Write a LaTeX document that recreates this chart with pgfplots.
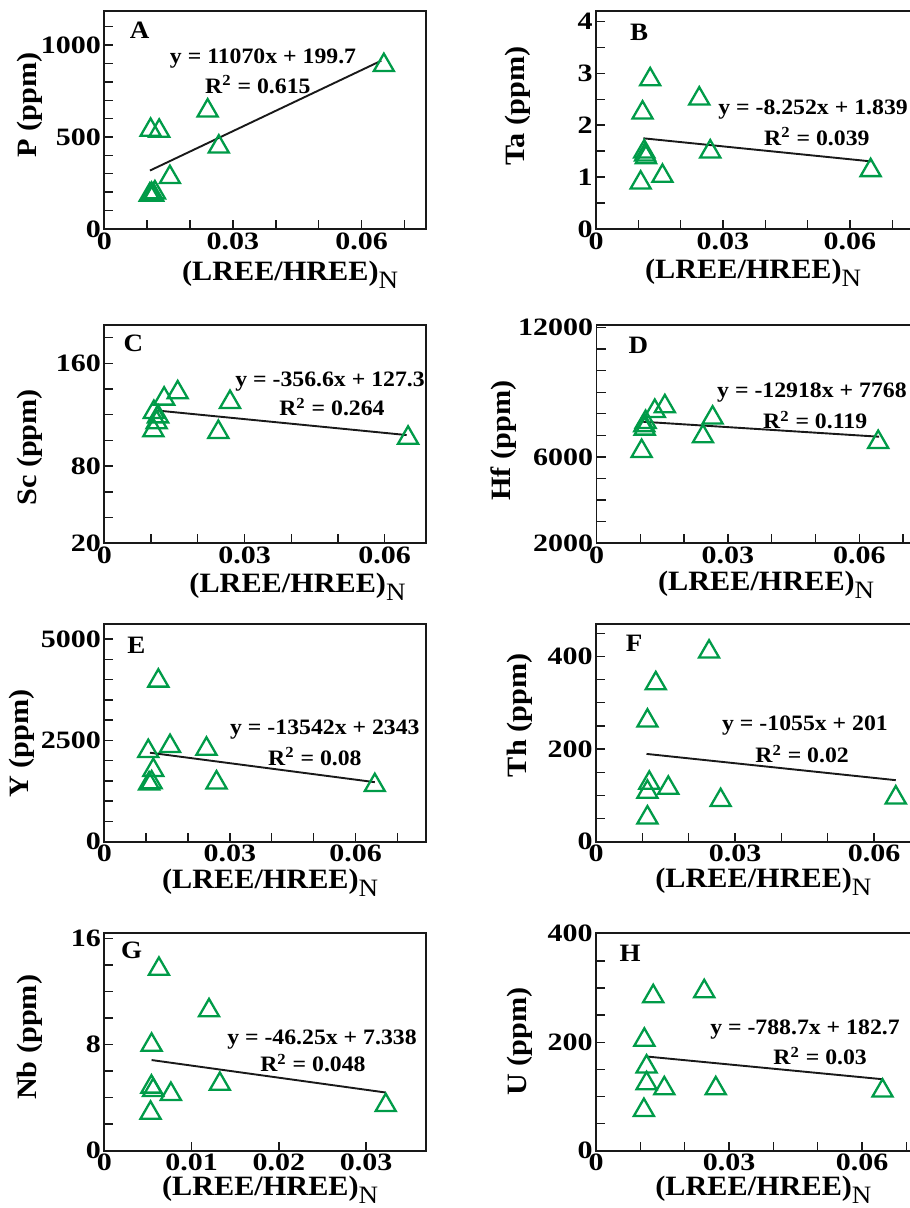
\documentclass[border=0pt]{standalone}
\usepackage{fontspec}
\setmainfont{Liberation Serif}[FakeStretch=1.08]
\newfontfamily\tickfont{Liberation Serif}[FakeStretch=1.2]
\usepackage{pgfplots}
\pgfplotsset{compat=1.18}
\definecolor{tri}{RGB}{0,155,72}
\newcommand{\xlab}{\textbf{(LREE/HREE)}\raisebox{-0.6ex}{\fontsize{12.5}{14}\selectfont\mdseries N}}
\newcommand{\eqf}{\fontsize{11}{13}\selectfont\bfseries}
\newcommand{\letf}{\fontsize{12.5}{14}\selectfont\bfseries}
\pgfplotsset{
  panel/.style={
    scale only axis, width=161pt, height=109pt,
    scaled ticks=false,
    axis line style={line width=0.9pt, black!90},
    every tick/.style={line width=0.7pt, black!90},
    major tick length=4.5pt, minor tick length=4.5pt,
    tick align=inside, tick pos=left,
    ticklabel style={font=\fontsize{12.5}{14}\selectfont\tickfont\bfseries, inner sep=1.5pt},
    label style={font=\fontsize{14}{16}\selectfont\bfseries},
    xlabel=\xlab,
    clip=false, anchor=south west,
  },
  xl/.style 2 args={xlabel style={at={(axis description cs:#1,#2)}, anchor=center}},
  yl/.style 2 args={ylabel style={at={(axis description cs:#1,#2)}, anchor=center}},
  x06/.style={xmin=0, xmax=#1, xtick={0,0.03,0.06}, xticklabels={0,0.03,0.06},
    minor xtick={0.01,0.02,0.04,0.05,0.07}},
  tri/.style={only marks, mark=triangle, mark size=5.8pt,
    mark options={draw=tri, line width=1.15pt, fill=none}},
  fit/.style={no marks, black!90, line width=0.95pt},
}
\begin{document}
\begin{tikzpicture}
\useasboundingbox (0,0) rectangle (454.5pt,604pt);

% A
\begin{axis}[panel, at={(52.15pt,489.5pt)}, x06=0.0751,
  ymin=0, ymax=1185, ytick={0,500,1000}, yticklabels={0,500,1000},
  minor ytick={100,200,...,1100},
  ylabel={P (ppm)}, xl={0.577}{-0.211}, yl={-0.231}{0.57}]
\addplot[tri] coordinates {(0.0106,185) (0.0110,190) (0.0114,185) (0.0118,198)
  (0.0108,538) (0.0128,533) (0.0153,281) (0.0241,643) (0.0267,447) (0.0652,890)};
\addplot[fit] coordinates {(0.01065,317.6) (0.0646,914.8)};
\node[font=\letf] at (rel axis cs:0.11,0.913) {A};
\node[font=\eqf] at (rel axis cs:0.493,0.784) {y = 11070x + 199.7};
\node[font=\eqf] at (rel axis cs:0.477,0.661) {R\textsuperscript{2} = 0.615};
\end{axis}

% B
\begin{axis}[panel, at={(298pt,489.5pt)}, x06=0.0761,
  ymin=0, ymax=4.2, ytick={0,1,2,3,4}, yticklabels={0,1,2,3,4},
  minor ytick={0.5,1.5,2.5,3.5},
  ylabel={Ta (ppm)}, xl={0.488}{-0.20}, yl={-0.242}{0.564}]
\addplot[tri] coordinates {(0.0128,2.88) (0.0110,2.24) (0.0244,2.51) (0.0114,1.49)
  (0.0116,1.43) (0.0118,1.38) (0.01055,0.89) (0.0157,1.02) (0.0270,1.49) (0.0649,1.13)};
\addplot[fit] coordinates {(0.0112,1.747) (0.0649,1.303)};
\node[font=\letf] at (rel axis cs:0.134,0.904) {B};
\node[font=\eqf] at (rel axis cs:0.674,0.546) {y = -8.252x + 1.839};
\node[font=\eqf] at (rel axis cs:0.686,0.422) {R\textsuperscript{2} = 0.039};
\end{axis}

% C
\begin{axis}[panel, at={(52.15pt,332.35pt)}, x06=0.0689,
  ymin=20, ymax=189.6, ytick={20,80,160}, yticklabels={20,80,160},
  minor ytick={40,60,100,120,140,180},
  ylabel={Sc (ppm)}, xl={0.60}{-0.20}, yl={-0.231}{0.44}]
\addplot[tri] coordinates {(0.0157,137.3) (0.0128,132.4) (0.0269,129.8) (0.0106,122)
  (0.0115,118.6) (0.0112,114) (0.0105,107.8) (0.0244,106.5) (0.0650,102)};
\addplot[fit] coordinates {(0.0110,123.4) (0.0647,104.2)};
\node[font=\letf] at (rel axis cs:0.09,0.917) {C};
\node[font=\eqf] at (rel axis cs:0.701,0.740) {y = -356.6x + 127.3};
\node[font=\eqf] at (rel axis cs:0.707,0.625) {R\textsuperscript{2} = 0.264};
\end{axis}

% D
\begin{axis}[panel, at={(298.25pt,332.5pt)}, x06=0.0735,
  ymin=2000, ymax=12124, ytick={2000,6000,12000}, yticklabels={2000,6000,12000},
  minor ytick={3000,4000,...,11000},
  ylabel={Hf (ppm)}, xl={0.527}{-0.193}, yl={-0.29}{0.47}]
\addplot[tri] coordinates {(0.0156,8341) (0.0133,8124) (0.0112,7612) (0.0109,7457)
  (0.0110,7302) (0.0265,7814) (0.0243,6946) (0.0103,6264) (0.0643,6682)};
\addplot[fit] coordinates {(0.01065,7630) (0.0645,6935)};
\node[font=\letf] at (rel axis cs:0.13,0.908) {D};
\node[font=\eqf] at (rel axis cs:0.669,0.688) {y = -12918x + 7768};
\node[font=\eqf] at (rel axis cs:0.679,0.564) {R\textsuperscript{2} = 0.119};
\end{axis}

% E
\begin{axis}[panel, at={(52.15pt,183.15pt)}, x06=0.0769,
  ymin=0, ymax=5380, ytick={0,2500,5000}, yticklabels={0,2500,5000},
  minor ytick={500,1000,...,4500},
  ylabel={Y (ppm)}, xl={0.515}{-0.19}, yl={-0.255}{0.45}]
\addplot[tri] coordinates {(0.0129,3970) (0.0157,2356) (0.0244,2290) (0.0105,2232)
  (0.0117,1763) (0.0268,1458) (0.0646,1392) (0.0107,1433) (0.0113,1460)};
\addplot[fit] coordinates {(0.0109,2195.5) (0.0646,1469)};
\node[font=\letf] at (rel axis cs:0.10,0.90) {E};
\node[font=\eqf] at (rel axis cs:0.685,0.512) {y = -13542x + 2343};
\node[font=\eqf] at (rel axis cs:0.654,0.389) {R\textsuperscript{2} = 0.08};
\end{axis}

% F
\begin{axis}[panel, at={(298pt,183.15pt)}, x06=0.0695,
  ymin=0, ymax=470.6, ytick={0,200,400}, yticklabels={0,200,400},
  minor ytick={50,100,...,450},
  ylabel={Th (ppm)}, xl={0.52}{-0.185}, yl={-0.236}{0.58}]
\addplot[tri] coordinates {(0.0244,410) (0.0129,341.6) (0.0111,261) (0.0115,126.8)
  (0.0111,107.4) (0.0156,116) (0.0269,89.4) (0.0111,51.9) (0.0647,95.1)};
\addplot[fit] coordinates {(0.0109,189.5) (0.0647,132.8)};
\node[font=\letf] at (rel axis cs:0.118,0.91) {F};
\node[font=\eqf] at (rel axis cs:0.649,0.535) {y = -1055x + 201};
\node[font=\eqf] at (rel axis cs:0.640,0.402) {R\textsuperscript{2} = 0.02};
\end{axis}

% G
\begin{axis}[panel, at={(52.15pt,28.65pt)},
  xmin=0, xmax=0.0369, xtick={0,0.01,0.02,0.03}, xticklabels={0,0.01,0.02,0.03},
  ymin=0, ymax=16.45, ytick={0,8,16}, yticklabels={0,8,16},
  minor ytick={2,4,6,10,12,14},
  ylabel={Nb (ppm)}, xl={0.515}{-0.18}, yl={-0.231}{0.52}]
\addplot[tri] coordinates {(0.00626,13.71) (0.0120,10.58) (0.00542,7.98) (0.01324,5.03)
  (0.0054,4.82) (0.0056,4.57) (0.00763,4.27) (0.03225,3.43) (0.0053,2.85)};
\addplot[fit] coordinates {(0.00542,6.84) (0.03225,4.39)};
\node[font=\letf] at (rel axis cs:0.085,0.92) {G};
\node[font=\eqf] at (rel axis cs:0.676,0.508) {y = -46.25x + 7.338};
\node[font=\eqf] at (rel axis cs:0.648,0.402) {R\textsuperscript{2} = 0.048};
\end{axis}

% H
\begin{axis}[panel, at={(298pt,28.65pt)}, x06=0.0726,
  ymin=0, ymax=402, ytick={0,200,400}, yticklabels={0,200,400},
  minor ytick={50,100,...,350},
  ylabel={U (ppm)}, xl={0.52}{-0.18}, yl={-0.236}{0.50}]
\addplot[tri] coordinates {(0.0244,293.8) (0.0129,284.6) (0.0109,204.3) (0.0114,154.9)
  (0.0114,124) (0.0154,114.8) (0.0270,114.8) (0.0108,74.7) (0.0646,110.5)};
\addplot[fit] coordinates {(0.0114,173.7) (0.0646,131.8)};
\node[font=\letf] at (rel axis cs:0.106,0.905) {H};
\node[font=\eqf] at (rel axis cs:0.649,0.554) {y = -788.7x + 182.7};
\node[font=\eqf] at (rel axis cs:0.696,0.434) {R\textsuperscript{2} = 0.03};
\end{axis}
\end{tikzpicture}
\end{document}
